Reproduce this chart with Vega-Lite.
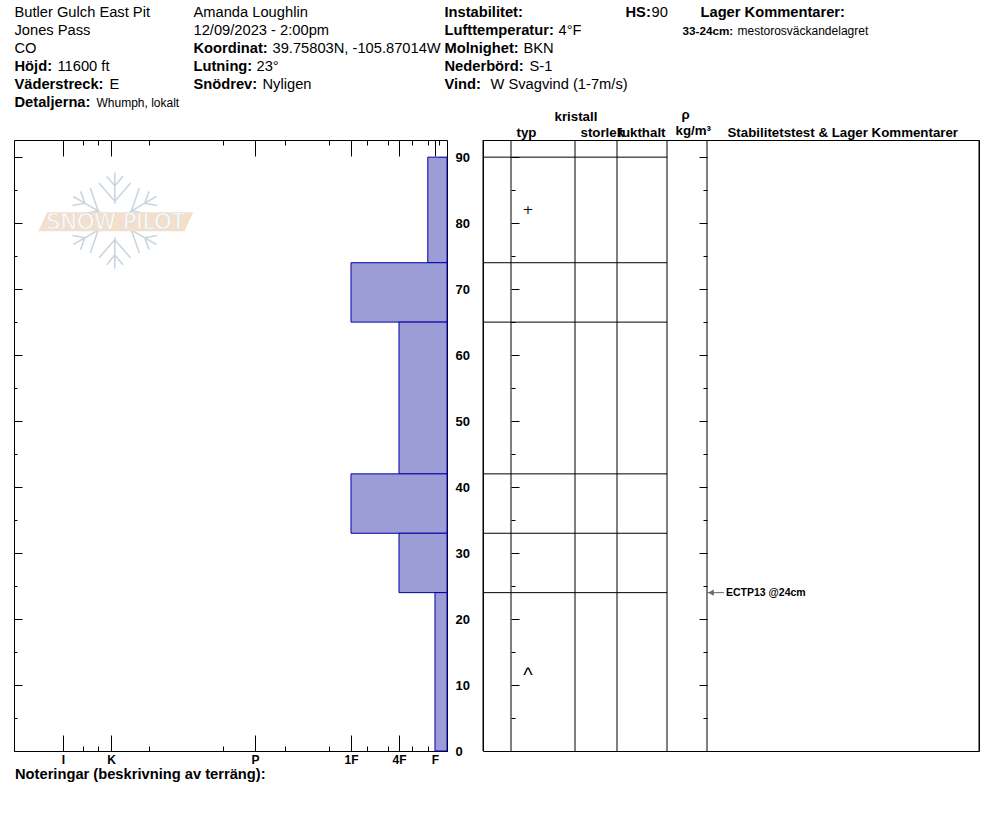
{"$schema":"https://vega.github.io/schema/vega-lite/v6.json","background":"white","padding":{"left":13,"top":0,"right":0,"bottom":0},"bounds":"flush","spacing":0,
"config":{"font":"Liberation Sans","axis":{"grid":false,"tickColor":"#000","domainColor":"#000","tickWidth":1,"title":null},"concat":{"spacing":0}},
"datasets":{
"layers":[{"top":90,"bottom":74,"grade":"F+","hardness":4,"form":"+","mid":82},{"top":74,"bottom":65,"grade":"1F","hardness":20},{"top":65,"bottom":42,"grade":"4F","hardness":10},{"top":42,"bottom":33,"grade":"1F","hardness":20},{"top":33,"bottom":24,"grade":"4F","hardness":10},{"top":24,"bottom":0,"grade":"F","hardness":2.5,"form":"^","mid":12}],
"header":[
{"slot":1,"line":1,"role":"value","text":"Butler Gulch East Pit"},{"slot":1,"line":2,"role":"value","text":"Jones Pass"},{"slot":1,"line":3,"role":"value","text":"CO"},
{"slot":1,"line":4,"role":"label","text":"Höjd:"},{"slot":2,"line":4,"role":"value","text":"11600 ft"},
{"slot":1,"line":5,"role":"label","text":"Väderstreck:"},{"slot":3,"line":5,"role":"value","text":"E"},
{"slot":1,"line":6,"role":"label","text":"Detaljerna:"},{"slot":4,"line":6,"role":"small","text":"Whumph, lokalt"},
{"slot":5,"line":1,"role":"value","text":"Amanda Loughlin"},{"slot":5,"line":2,"role":"value","text":"12/09/2023 - 2:00pm"},
{"slot":5,"line":3,"role":"label","text":"Koordinat:"},{"slot":6,"line":3,"role":"value","text":"39.75803N, -105.87014W"},
{"slot":5,"line":4,"role":"label","text":"Lutning:"},{"slot":7,"line":4,"role":"value","text":"23°"},
{"slot":5,"line":5,"role":"label","text":"Snödrev:"},{"slot":8,"line":5,"role":"value","text":"Nyligen"},
{"slot":9,"line":1,"role":"label","text":"Instabilitet:"},
{"slot":9,"line":2,"role":"label","text":"Lufttemperatur:"},{"slot":10,"line":2,"role":"value","text":"4°F"},
{"slot":9,"line":3,"role":"label","text":"Molnighet:"},{"slot":11,"line":3,"role":"value","text":"BKN"},
{"slot":9,"line":4,"role":"label","text":"Nederbörd:"},{"slot":12,"line":4,"role":"value","text":"S-1"},
{"slot":9,"line":5,"role":"label","text":"Vind:"},{"slot":13,"line":5,"role":"value","text":"W Svagvind (1-7m/s)"},
{"slot":14,"line":1,"role":"label","text":"HS:"},{"slot":15,"line":1,"role":"value","text":"90"},
{"slot":16,"line":1,"role":"label","text":"Lager Kommentarer:"},
{"slot":17,"line":2,"role":"smallLabel","text":"33-24cm:"},{"slot":18,"line":2,"role":"small","text":"mestorosväckandelagret"},
{"slot":19,"line":8,"role":"column","text":"kristall"},{"slot":20,"line":10,"role":"column","text":"typ"},{"slot":21,"line":10,"role":"column","text":"storlek"},{"slot":22,"line":10,"role":"column","text":"fukthalt"},{"slot":23,"line":7,"role":"column","text":"ρ"},{"slot":24,"line":9,"role":"column","text":"kg/m³"},{"slot":25,"line":10,"role":"column","text":"Stabilitetstest & Lager Kommentarer"}
],
"columns":[{"col":0,"name":"djup"},{"col":1,"name":"typ"},{"col":2,"name":"storlek"},{"col":3,"name":"fukthalt"},{"col":4,"name":"densitet"},{"col":5,"name":"test"},{"col":6,"name":"slut"}],
"boundaries":[{"depth":90,"from":0,"to":4},{"depth":74,"from":0,"to":4},{"depth":65,"from":0,"to":4},{"depth":42,"from":0,"to":4},{"depth":33,"from":0,"to":4},{"depth":24,"from":0,"to":4}],
"tests":[{"col":5,"end":5.0625,"depth":24,"text":"ECTP13 @24cm"}],
"logo":[{"hardness":69,"depth":80.2,"text":"SNOW PILOT"}],
"flake":[{"hardness":69.2,"depth":80.4}]
},
"vconcat":[
{"width":966,"height":140,"view":{"stroke":null},"data":{"name":"header"},
"encoding":{"x":{"field":"slot","type":"quantitative","axis":null,"scale":{"domain":[1,2,3,4,5,6,7,8,9,10,11,12,13,14,15,16,17,18,19,20,21,22,23,24,25],"range":[0.5,43.5,95.5,82.5,179.5,258.5,242.5,248.5,430.5,544.5,509.5,515.5,476.5,611.5,637.5,686.5,668.5,723.5,540.5,502.5,566.5,603.5,667.5,661.5,713.5]}},"y":{"field":"line","type":"quantitative","axis":null,"scale":{"domain":[1,2,3,4,5,6,7,8,9,10],"range":[13,31,49,67,85,103,114.5,117,131,133]}},"text":{"field":"text"}},
"layer":[
{"transform":[{"filter":"datum.role==='value'"}],"mark":{"type":"text","align":"left","baseline":"middle","fontSize":14.7,"color":"#000"}},
{"transform":[{"filter":"datum.role==='label'"}],"mark":{"type":"text","align":"left","baseline":"middle","fontSize":14.7,"fontWeight":"bold","color":"#000"}},
{"transform":[{"filter":"datum.role==='small'"}],"mark":{"type":"text","align":"left","baseline":"middle","fontSize":12,"color":"#000"}},
{"transform":[{"filter":"datum.role==='smallLabel'"}],"mark":{"type":"text","align":"left","baseline":"middle","fontSize":11.7,"fontWeight":"bold","color":"#000"}},
{"transform":[{"filter":"datum.role==='column'"}],"mark":{"type":"text","align":"left","baseline":"middle","fontSize":13.3,"fontWeight":"bold","color":"#000"}}
]},
{"spacing":36,"bounds":"flush","hconcat":[
{"width":433,"height":611,"view":{"stroke":"#000","strokeWidth":1},
"resolve":{"axis":{"x":"independent","y":"independent"}},
"layer":[
{"data":{"name":"flake"},"mark":{"type":"point","filled":false,"size":9216,"stroke":"#c9d6df","strokeWidth":1.6,"opacity":1,"shape":"M0 -.35L0 -1M0 -.4L.33 -.78M0 -.4L-.33 -.78M0 -.72L.17 -.92M0 -.72L-.17 -.92M.303 -.175L.866 -.5M.346 -.2L.84 -.104M.346 -.2L.51 -.676M.624 -.36L.882 -.313M.624 -.36L.712 -.607M.303 .175L.866 .5M.346 .2L.84 .104M.346 .2L.51 .676M.624 .36L.882 .313M.624 .36L.712 .607M0 .35L0 1M0 .4L.33 .78M0 .4L-.33 .78M0 .72L.17 .92M0 .72L-.17 .92M-.303 -.175L-.866 -.5M-.346 -.2L-.84 -.104M-.346 -.2L-.51 -.676M-.624 -.36L-.882 -.313M-.624 -.36L-.712 -.607M-.303 .175L-.866 .5M-.346 .2L-.84 .104M-.346 .2L-.51 .676M-.624 .36L-.882 .313M-.624 .36L-.712 .607"},
"encoding":{"x":{"field":"hardness","type":"quantitative","scale":{"domain":[90.2,0],"nice":false,"zero":false},"axis":{"orient":"top","labels":false,"domain":false,"values":[80,75.8,72.7,70,62,46.7,40,33.75,24.6,20,16.7,12.3,10,7.3,4,2.5,1.7],"tickSize":{"condition":{"test":"indexof([80,70,40,20,10,2.5],datum.value)>=0","value":-16},"value":-5}}},"y":{"field":"depth","type":"quantitative","scale":{"domain":[0,92.6],"nice":false,"zero":false},"axis":{"orient":"left","labels":false,"domain":false,"values":[0,5,10,15,20,25,30,35,40,45,50,55,60,65,70,75,80,85,90],"tickSize":{"condition":{"test":"datum.value%10===0","value":-8},"value":-3}}}}},
{"data":{"name":"logo"},"mark":{"type":"point","filled":true,"size":24025,"fill":"#f3dfcc","opacity":1,"stroke":null,"shape":"M-1 .122L-.885 -.122L1 -.122L.885 .122Z"},"encoding":{"x":{"field":"hardness","type":"quantitative","axis":null},"y":{"field":"depth","type":"quantitative","axis":null}}},
{"data":{"name":"logo"},"mark":{"type":"text","fontSize":22,"font":"DejaVu Sans","fill":"#ffffff","stroke":"#d5dde2","strokeWidth":0.5,"align":"center","baseline":"middle"},"encoding":{"x":{"field":"hardness","type":"quantitative","axis":null},"y":{"field":"depth","type":"quantitative","axis":null},"text":{"field":"text"}}},
{"data":{"name":"layers"},"mark":{"type":"rect","fill":"#9c9cd6","stroke":"#0000a8","strokeWidth":1},
"encoding":{"x":{"field":"hardness","type":"quantitative","axis":{"orient":"bottom","domain":true,"values":[80,75.8,72.7,70,62,46.7,40,33.75,24.6,20,16.7,12.3,10,7.3,4,2.5,1.7],"tickSize":{"condition":{"test":"indexof([80,70,40,20,10,2.5],datum.value)>=0","value":-16},"value":-5},"labelExpr":"datum.value===80?'I':datum.value===70?'K':datum.value===40?'P':datum.value===20?'1F':datum.value===10?'4F':datum.value===2.5?'F':''","labelFontWeight":"bold","labelFontSize":12,"labelColor":"#000","labelPadding":19,"labelOverlap":false,"labelFlush":false,"title":"Noteringar (beskrivning av terräng):","titleFontSize":14.7,"titleFontWeight":"bold","titleColor":"#000","titleAlign":"left","titleBaseline":"middle","titleAnchor":"start","titleX":0.5,"titleY":23.5}},"x2":{"datum":0},"y":{"field":"top","type":"quantitative","axis":{"orient":"right","domain":false,"values":[0,5,10,15,20,25,30,35,40,45,50,55,60,65,70,75,80,85,90],"tickSize":{"condition":{"test":"datum.value%10===0","value":-8},"value":-4},"labelExpr":"datum.value%10===0?datum.label:''","labelFontWeight":"bold","labelFontSize":13,"labelColor":"#000","labelPadding":16,"labelOverlap":false,"labelFlush":false,"labelBaseline":"middle"}},"y2":{"field":"bottom"}}}
]},
{"width":496,"height":611,"view":{"stroke":"#000","strokeWidth":1},
"resolve":{"axis":{"y":"independent"}},
"layer":[
{"data":{"name":"columns"},"mark":{"type":"rule","color":"#000","strokeWidth":1},"encoding":{"x":{"field":"col","type":"quantitative","axis":null,"scale":{"domain":[0,1,2,3,4,5,6],"range":[0,28,92,134,184,224,496]}}}},
{"data":{"name":"boundaries"},"mark":{"type":"rule","color":"#000","strokeWidth":1},"encoding":{"x":{"field":"from","type":"quantitative","axis":null},"x2":{"field":"to"},"y":{"field":"depth","type":"quantitative","scale":{"domain":[0,92.6],"nice":false,"zero":false},"axis":{"orient":"left","offset":-28,"labels":false,"domain":false,"values":[0,5,10,15,20,25,30,35,40,45,50,55,60,65,70,75,80,85,90],"tickSize":{"condition":{"test":"datum.value%10===0","value":-8},"value":-4}}}}},
{"data":{"name":"tests"},"mark":{"type":"rule","color":"#666","strokeWidth":1},"encoding":{"x":{"field":"col","type":"quantitative","axis":null},"x2":{"field":"end"},"y":{"field":"depth","type":"quantitative","axis":{"orient":"right","offset":-272,"labels":false,"domain":false,"values":[0,5,10,15,20,25,30,35,40,45,50,55,60,65,70,75,80,85,90],"tickSize":{"condition":{"test":"datum.value%10===0","value":-8},"value":-4}}}}},
{"data":{"name":"tests"},"mark":{"type":"point","shape":"triangle-left","filled":true,"size":40,"color":"#666","opacity":1,"xOffset":4},"encoding":{"x":{"field":"col","type":"quantitative","axis":null},"y":{"field":"depth","type":"quantitative","axis":null}}},
{"data":{"name":"tests"},"mark":{"type":"text","align":"left","baseline":"middle","dx":19,"fontSize":10.5,"fontWeight":"bold","color":"#000"},"encoding":{"x":{"field":"col","type":"quantitative","axis":null},"y":{"field":"depth","type":"quantitative","axis":null},"text":{"field":"text"}}},
{"data":{"name":"layers"},"transform":[{"filter":"datum.form==='+'"}],"mark":{"type":"text","align":"center","baseline":"middle","dx":17,"font":"DejaVu Sans","fontSize":13,"color":"#000"},"encoding":{"x":{"datum":1,"type":"quantitative","axis":null},"y":{"field":"mid","type":"quantitative","axis":null},"text":{"field":"form"}}},
{"data":{"name":"layers"},"transform":[{"filter":"datum.form==='^'"}],"mark":{"type":"text","align":"center","baseline":"middle","dx":17,"dy":4,"font":"Liberation Sans","fontSize":20,"color":"#000"},"encoding":{"x":{"datum":1,"type":"quantitative","axis":null},"y":{"field":"mid","type":"quantitative","axis":null},"text":{"field":"form"}}}
]}
]}
]}
